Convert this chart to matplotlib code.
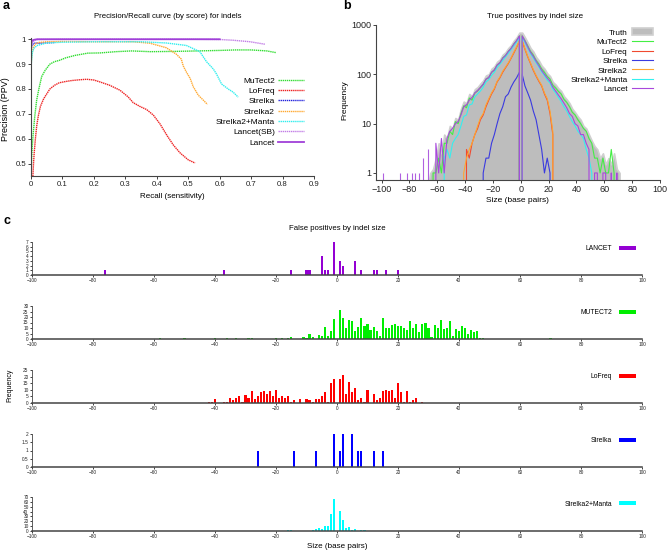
import numpy as np
import matplotlib
matplotlib.use('Agg')
import matplotlib.pyplot as plt
from matplotlib.patches import Patch
from matplotlib.ticker import FuncFormatter, NullLocator

plt.rcParams['font.family'] = ['Liberation Sans', 'DejaVu Sans']

# ---------------- panel a: precision / recall by score ----------------
mutect2_rec = [0.0, 0.002, 0.004, 0.007, 0.012, 0.018, 0.025, 0.034, 0.045, 0.06, 0.075, 0.09, 0.11,
               0.14, 0.18, 0.22, 0.27, 0.32, 0.38, 0.45, 0.53, 0.6, 0.65, 0.7, 0.75, 0.78]
mutect2_ppv = [0.45, 0.52, 0.57, 0.62, 0.69, 0.755, 0.8, 0.85, 0.875, 0.9, 0.91, 0.915, 0.925,
               0.935, 0.944, 0.945, 0.95, 0.953, 0.95, 0.951, 0.953, 0.955, 0.957, 0.957, 0.953, 0.946]
lofreq_rec = [0.006, 0.008, 0.01, 0.014, 0.018, 0.023, 0.03, 0.04, 0.05, 0.06, 0.075, 0.09, 0.11, 0.13,
              0.155, 0.177, 0.2, 0.22, 0.25, 0.283, 0.309, 0.325, 0.346, 0.368, 0.389, 0.41, 0.432,
              0.453, 0.474, 0.5, 0.522]
lofreq_ppv = [0.45, 0.5, 0.54, 0.6, 0.65, 0.69, 0.73, 0.76, 0.78, 0.8, 0.815, 0.825, 0.83, 0.834,
              0.837, 0.839, 0.836, 0.828, 0.815, 0.795, 0.768, 0.745, 0.73, 0.717, 0.695, 0.66, 0.614,
              0.574, 0.543, 0.515, 0.502]
strelka_rec = [0.0, 0.003, 0.008, 0.015, 0.025, 0.04, 0.06, 0.075]
strelka_ppv = [0.955, 0.975, 0.983, 0.985, 0.984, 0.985, 0.986, 0.987]
strelka2_rec = [0.0, 0.003, 0.008, 0.015, 0.025, 0.05, 0.1, 0.2, 0.3, 0.325, 0.378, 0.43, 0.462,
                0.478, 0.484, 0.495, 0.506, 0.516, 0.532, 0.548, 0.561]
strelka2_ppv = [0.89, 0.94, 0.97, 0.982, 0.987, 0.99, 0.991, 0.99, 0.99, 0.99, 0.984, 0.966, 0.94,
                0.92, 0.893, 0.866, 0.843, 0.809, 0.775, 0.755, 0.738]
manta_rec = [0.0, 0.002, 0.005, 0.01, 0.02, 0.05, 0.1, 0.2, 0.35, 0.43, 0.494, 0.537, 0.558, 0.58,
             0.59, 0.606, 0.627, 0.643, 0.659]
manta_ppv = [0.88, 0.92, 0.95, 0.965, 0.975, 0.985, 0.988, 0.99, 0.99, 0.985, 0.975, 0.95, 0.91, 0.88,
             0.86, 0.82, 0.8, 0.787, 0.767]
lancet_sb_rec = [0.002, 0.006, 0.012, 0.02, 0.1, 0.3, 0.5, 0.6, 0.643, 0.696, 0.744]
lancet_sb_ppv = [0.975, 0.99, 0.996, 0.999, 1.0, 1.0, 1.0, 0.999, 0.996, 0.99, 0.98]
lancet_rec = [0.0, 0.004, 0.01, 0.02, 0.1, 0.3, 0.5, 0.6]
lancet_ppv = [0.985, 0.995, 0.998, 1.0, 1.0, 1.0, 1.0, 1.0]

# ---------------- panel b: true positives by indel size ----------------
# values at sizes -69,-67,...,-1 (left) and 1,3,...,71 (right)
truth_left = [0.5, 0.5, 1, 1.2, 2, 4, 2.5, 6, 5, 9, 8, 13, 12, 20, 28, 26, 40, 36, 50, 55, 65, 75, 95,
              100, 130, 145, 180, 200, 250, 280, 340, 390, 480, 560, 700]
truth_right = [700, 560, 440, 340, 290, 225, 190, 150, 130, 105, 92, 70, 62, 52, 46, 36, 31, 26, 20, 17,
               14, 12, 9, 8, 6, 4.5, 3.5, 3, 2, 2.5, 1.5, 2, 1.5, 2.5, 1.2, 1]
mutect2_left = [0, 0, 0, 1, 1, 2, 1, 4, 4, 7, 6, 11, 10, 16, 23, 21, 33, 30, 42, 46, 54, 62, 80, 85,
                110, 122, 155, 170, 215, 240, 290, 335, 410, 480, 600]
mutect2_right = [600, 480, 375, 290, 245, 190, 162, 128, 110, 90, 80, 60, 53, 45, 40, 31, 27, 22, 17,
                 15, 12, 10, 8, 7, 5, 4, 2, 2, 1, 2, 1, 1, 3, 1, 0, 0]
lofreq_left = [0, 0, 0, 0, 0, 0, 0, 0, 0, 0, 0, 0, 0, 0, 0, 3, 2, 4, 6, 8, 12, 15, 22, 30, 40, 50, 70,
               85, 110, 135, 165, 210, 270, 350, 470]
lofreq_right = [470, 320, 225, 165, 120, 92, 72, 58, 40, 30, 16, 6, 0, 0, 0, 0, 0, 0, 0, 0, 0, 0, 0, 0,
                0, 0, 0, 0, 0, 0, 0, 0, 0, 0, 0, 0]
strelka_left = [0, 0, 0, 0, 0, 0, 0, 0, 0, 0, 0, 0, 0, 0, 0, 0, 0, 0, 0, 0, 0, 1, 2, 2, 4, 6, 10, 16,
                22, 35, 40, 55, 70, 85, 110]
strelka_right = [100, 58, 42, 30, 18, 12, 6, 3, 1, 2, 1, 0, 0, 0, 0, 0, 0, 0, 0, 0, 0, 0, 0, 0, 0, 0,
                 0, 0, 0, 0, 0, 0, 0, 0, 0, 0]
strelka2_left = [0, 0, 0, 0, 0, 0, 0, 0, 0, 0, 0, 0, 0, 0, 1, 2, 3, 4, 6, 9, 13, 16, 24, 32, 42, 52,
                 72, 88, 115, 140, 170, 215, 280, 360, 490]
strelka2_right = [490, 330, 230, 170, 125, 95, 75, 60, 42, 32, 18, 7, 0, 0, 0, 0, 0, 0, 0, 0, 0, 0, 0,
                  0, 0, 0, 0, 0, 0, 0, 0, 0, 0, 0, 0, 0]
manta_left = [0, 0, 0, 0, 0, 0, 0, 2, 3, 2, 4, 5, 6, 9, 14, 15, 24, 25, 35, 40, 46, 55, 70, 78, 95,
              110, 138, 160, 190, 225, 265, 315, 380, 450, 560]
manta_right = [560, 440, 340, 262, 215, 172, 140, 112, 94, 76, 66, 50, 42, 34, 28, 22, 18, 14, 11, 9,
               7, 6, 5, 3, 2, 1, 0, 0, 0, 0, 0, 0, 0, 0, 0, 0]
lancet_left = [0, 0, 0, 0, 4, 1, 5, 1, 5, 7, 8, 10, 11, 15, 22, 24, 30, 34, 42, 47, 54, 63, 80, 86,
               110, 122, 155, 172, 212, 240, 290, 335, 410, 485, 600]
lancet_right = [600, 470, 360, 280, 232, 185, 150, 120, 100, 84, 72, 55, 46, 38, 32, 26, 21, 16, 14,
                10, 9, 6, 6, 4, 3, 0, 1, 1, 0, 1, 1, 0, 1, 0, 1, 0]
lancet_far_sizes = [-99, -87, -82, -78, -76, -73, -70, -67]
lancet_far_counts = [1, 1, 1, 1, 1, 1, 2, 3]

# ---------------- panel c: false positives by indel size ----------------
lancet_fp_sizes = [-76, -37, -15, -10, -9, -5, -4, -3, -1, 1, 2, 6, 8, 12, 13, 16, 20]
lancet_fp_counts = [1, 1, 1, 1, 1, 4, 1, 1, 7, 3, 2, 3, 1, 1, 1, 1, 1]
mutect2_fp_sizes = [-58, -50, -40, -36, -33, -29, -28, -20, -18, -16, -15, -11, -10, -9, -8, -6, -5,
                    -4, -3, -2, -1] + list(range(1, 49)) + [70]
mutect2_fp_counts = [1, 1, 1, 1, 1, 1, 1, 1, 1, 1, 2, 2, 1, 5, 2, 4, 3, 11, 3, 7, 18,
                     26, 19, 10, 17, 16, 7, 11, 19, 12, 14, 8, 11, 7, 3, 19, 10, 10, 13, 14, 12,
                     12, 10, 8, 16, 10, 14, 6, 14, 15, 10, 2, 13, 10, 17, 9, 10, 16, 3, 9, 7,
                     12, 10, 5, 8, 6, 7, 1, 1, 1]
lofreq_fp_sizes = [-42, -41, -40, -37, -36, -35, -34, -33, -32, -31, -30, -29, -28, -27, -26, -25,
                   -24, -23, -22, -21, -20, -19, -18, -17, -16, -15, -14, -12, -10, -9, -8, -7, -6,
                   -5, -4, -3, -2, -1, 1, 2, 3, 4, 5, 6, 7, 8, 9, 10, 12, 13, 14, 15, 16, 17, 18,
                   19, 20, 21, 22, 23, 24, 25, 26, 28]
lofreq_fp_counts = [1, 1, 3, 1, 1, 4, 2, 4, 5, 1, 6, 4, 9, 3, 5, 8, 9, 7, 9, 5, 10, 4, 5, 4, 5, 1,
                    2, 3, 3, 2, 1, 3, 3, 5, 8, 1, 15, 18, 18, 21, 7, 16, 8, 11, 2, 4, 1, 10, 7, 2,
                    4, 9, 10, 9, 10, 4, 15, 8, 1, 9, 1, 2, 4, 1]
strelka_fp_sizes = [-26, -14, -7, -1, 1, 2, 5, 7, 8, 12, 15]
strelka_fp_counts = [1, 1, 1, 2, 1, 2, 2, 1, 1, 1, 1]
manta_fp_sizes = [-16, -15, -12, -10, -8, -7, -6, -5, -4, -3, -2, -1, 1, 2, 3, 4, 5, 6, 8, 9, 23]
manta_fp_counts = [3, 3, 1, 1, 3, 5, 7, 5, 10, 11, 35, 66, 42, 22, 7, 9, 3, 5, 2, 2, 1]

W, H = 668, 553
fig = plt.figure(figsize=(W / 100, H / 100), dpi=100)


def px_box(left, top, right, bottom):
    return [left / W, 1 - bottom / H, (right - left) / W, (bottom - top) / H]


def px_text(x, y, s, **kw):
    kw.setdefault('ha', 'center')
    kw.setdefault('va', 'center')
    fig.text(x / W, 1 - y / H, s, **kw)


def style_axes(ax, size):
    for side in ('top', 'right'):
        ax.spines[side].set_visible(False)
    for side in ('left', 'bottom'):
        ax.spines[side].set_linewidth(0.8)
        ax.spines[side].set_color('#444444')
    ax.tick_params(labelsize=size, length=2, width=0.6, pad=1.5, colors='#222222')


fmt_g = FuncFormatter(lambda v, p: '%g' % v)

# ---- a ----
ax = fig.add_axes(px_box(31, 38, 314, 176))
dot = (0, (1, 0.5))
ax.plot(mutect2_rec, mutect2_ppv, color='#33dd33', lw=1.0, ls=dot, label='MuTect2')
ax.plot(lofreq_rec, lofreq_ppv, color='#ee2222', lw=1.0, ls=dot, label='LoFreq')
ax.plot(strelka_rec, strelka_ppv, color='#2222dd', lw=1.0, ls=dot, label='Strelka')
ax.plot(strelka2_rec, strelka2_ppv, color='#ffaa33', lw=1.0, ls=dot, label='Strelka2')
ax.plot(manta_rec, manta_ppv, color='#33eeee', lw=1.0, ls=dot, label='Strelka2+Manta')
ax.plot(lancet_sb_rec, lancet_sb_ppv, color='#c27ee6', lw=1.0, ls=dot, label='Lancet(SB)')
ax.plot(lancet_rec, lancet_ppv, color='#a040d8', lw=1.3, label='Lancet')
ax.set_xlim(0, 0.9)
ax.set_ylim(0.45, 1.005)
ax.set_xticks([0, 0.1, 0.2, 0.3, 0.4, 0.5, 0.6, 0.7, 0.8, 0.9])
ax.set_yticks([0.5, 0.6, 0.7, 0.8, 0.9, 1.0])
ax.xaxis.set_major_formatter(fmt_g)
ax.yaxis.set_major_formatter(fmt_g)
style_axes(ax, 5.6)
ax.legend(loc='center right', bbox_to_anchor=(0.965, 0.466), frameon=False, fontsize=6,
          markerfirst=False, handlelength=3.1, handletextpad=0.4, labelspacing=0.3,
          borderpad=0, borderaxespad=0)
px_text(168, 16, 'Precision/Recall curve (by score) for indels', fontsize=5.6)
px_text(172, 196, 'Recall (sensitivity)', fontsize=5.8)
px_text(6, 109, 'Precision (PPV)', fontsize=6.5, rotation=90)
px_text(3, 6, 'a', fontsize=9, fontweight='bold', ha='left')

# ---- b ----
left_sizes = list(range(-69, 0, 2))
right_sizes = list(range(1, 72, 2))
line_sizes = left_sizes + [0] + right_sizes
ax = fig.add_axes(px_box(376, 25, 660, 180))
ax.set_yscale('log')
ax.fill_between(left_sizes + right_sizes, truth_left + truth_right, 0.1,
                facecolor='#bdbdbd', edgecolor='#d0d0d0', lw=1.2, label='Truth')
series_b = [
    ('MuTect2', mutect2_left, mutect2_right, '#44ee44'),
    ('LoFreq', lofreq_left, lofreq_right, '#f04a30'),
    ('Strelka', strelka_left, strelka_right, '#3a3ae0'),
    ('Strelka2', strelka2_left, strelka2_right, '#ffa530'),
    ('Strelka2+Manta', manta_left, manta_right, '#33f0f0'),
    ('Lancet', lancet_left, lancet_right, '#a848dc'),
]
for name, lv, rv, col in series_b:
    ax.plot(line_sizes, lv + [0] + rv, color=col, lw=0.8, label=name)
ax.vlines(lancet_far_sizes, 0.1, lancet_far_counts, color='#b060e0', lw=0.8)
ax.set_xlim(-104, 100)
ax.set_ylim(0.72, 1000)
ax.set_xticks([-100, -80, -60, -40, -20, 0, 20, 40, 60, 80, 100])
ax.set_yticks([1, 10, 100, 1000])
ax.yaxis.set_minor_locator(NullLocator())
ax.yaxis.set_major_formatter(fmt_g)
style_axes(ax, 6.5)
ax.legend(loc='center right', bbox_to_anchor=(0.975, 0.768), frameon=False, fontsize=5.9,
          markerfirst=False, handlelength=2.6, handleheight=0.9, handletextpad=0.5,
          labelspacing=0.15, borderpad=0, borderaxespad=0)
px_text(535, 16, 'True positives by indel size', fontsize=5.8)
px_text(517, 201, 'Size (base pairs)', fontsize=6)
px_text(345, 100, 'Frequency', fontsize=6, rotation=90)
px_text(343, 6, 'b', fontsize=9, fontweight='bold', ha='left')

# ---- c ----
rows = [
    ('LANCET', lancet_fp_sizes, lancet_fp_counts, '#9400d3', [0, 1, 2, 3, 4, 5, 6, 7]),
    ('MUTECT2', mutect2_fp_sizes, mutect2_fp_counts, '#00ee00', [0, 5, 10, 15, 20, 25, 30]),
    ('LoFreq', lofreq_fp_sizes, lofreq_fp_counts, '#ff0000', [0, 5, 10, 15, 20, 25]),
    ('Strelka', strelka_fp_sizes, strelka_fp_counts, '#0000ff', [0, 0.5, 1, 1.5, 2]),
    ('Strelka2+Manta', manta_fp_sizes, manta_fp_counts, '#00ffff', [0, 10, 20, 30, 40, 50, 60, 70]),
]
tops = [242, 306, 370, 434, 497]
bottoms = [275, 339, 403, 467, 531]
for (name, sz, cnt, col, yt), t, b in zip(rows, tops, bottoms):
    ax = fig.add_axes(px_box(32, t, 642, b))
    ax.bar(sz, cnt, width=0.7, color=col, linewidth=0)
    ax.set_xlim(-100, 100)
    ax.set_ylim(0, yt[-1])
    ax.set_xticks([-100, -80, -60, -40, -20, 0, 20, 40, 60, 80, 100])
    ax.set_yticks(yt)
    ax.yaxis.set_major_formatter(fmt_g)
    style_axes(ax, 3.4)
    ax.spines['bottom'].set_linewidth(1.1)
    ax.spines['left'].set_linewidth(0.6)
    ax.tick_params(length=1.5, pad=1)
    ax.legend(handles=[Patch(facecolor=col, label=name)], loc='center right',
              bbox_to_anchor=(0.99, 0.79), frameon=False, fontsize=4.9, markerfirst=False,
              handlelength=2.5, handleheight=0.6, handletextpad=1.0, borderpad=0, borderaxespad=0)
px_text(337, 229, 'False positives by indel size', fontsize=5.6)
px_text(337, 547, 'Size (base pairs)', fontsize=5.8)
px_text(10, 385, 'Frequency', fontsize=5, rotation=90)
px_text(3, 221, 'c', fontsize=9, fontweight='bold', ha='left')

fig.savefig('out.png', dpi=100)
